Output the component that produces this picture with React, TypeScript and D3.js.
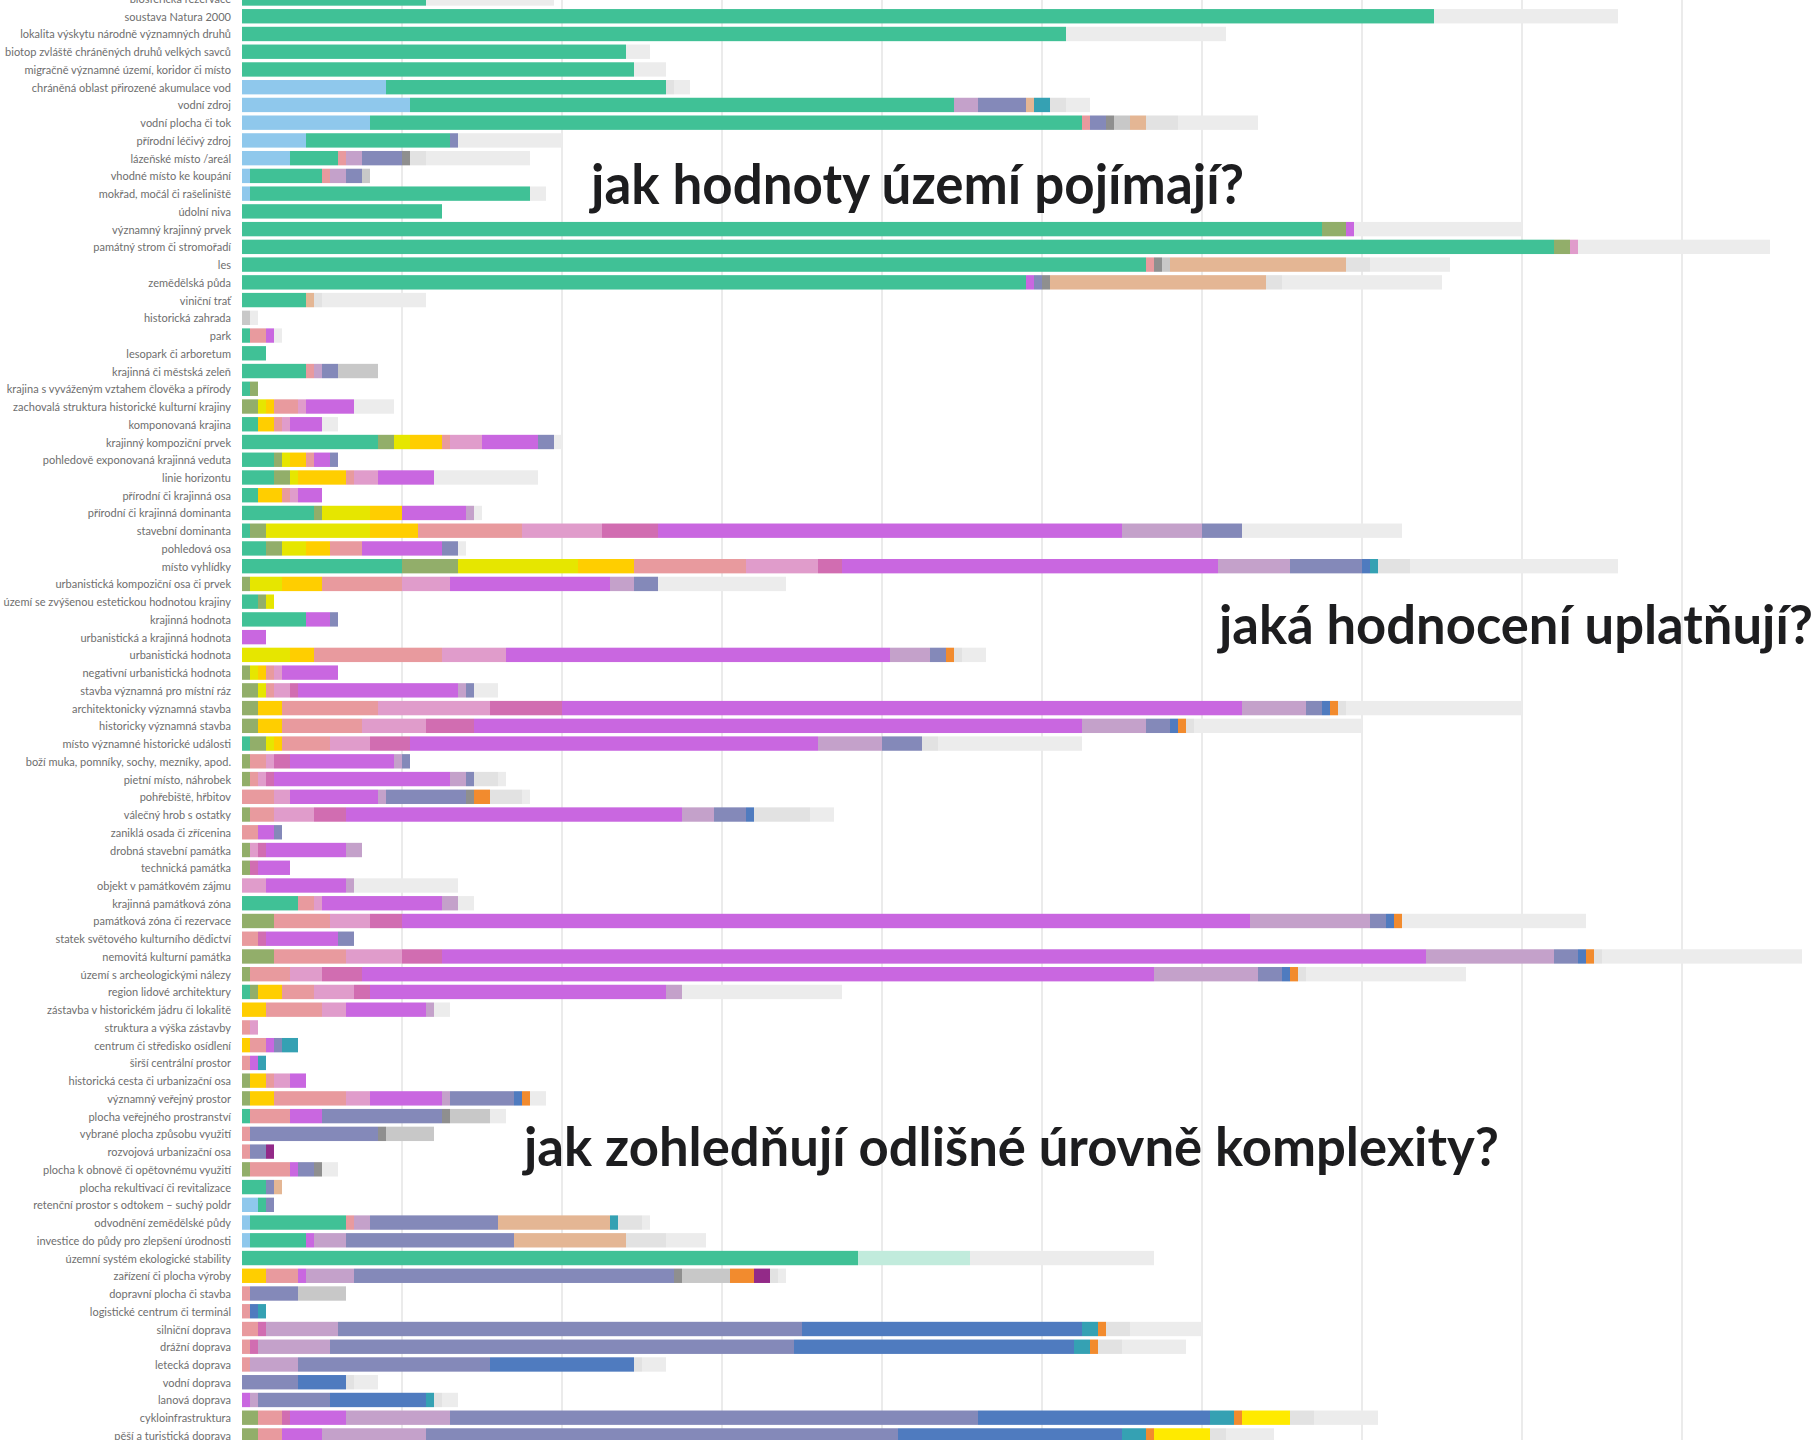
import React from "react";
import * as d3 from "d3";

const categories: string[] = [
  "biosférická rezervace",
  "soustava Natura 2000",
  "lokalita výskytu národně významných druhů",
  "biotop zvláště chráněných druhů velkých savců",
  "migračně významné území, koridor či místo",
  "chráněná oblast přirozené akumulace vod",
  "vodní zdroj",
  "vodní plocha či tok",
  "přírodní léčivý zdroj",
  "lázeňské místo /areál",
  "vhodné místo ke koupání",
  "mokřad, močál či rašeliniště",
  "údolní niva",
  "významný krajinný prvek",
  "památný strom či stromořadí",
  "les",
  "zemědělská půda",
  "viniční trať",
  "historická zahrada",
  "park",
  "lesopark či arboretum",
  "krajinná či městská zeleň",
  "krajina s vyváženým vztahem člověka a přírody",
  "zachovalá struktura historické kulturní krajiny",
  "komponovaná krajina",
  "krajinný kompoziční prvek",
  "pohledově exponovaná krajinná veduta",
  "linie horizontu",
  "přírodní či krajinná osa",
  "přírodní či krajinná dominanta",
  "stavební dominanta",
  "pohledová osa",
  "místo vyhlídky",
  "urbanistická kompoziční osa či prvek",
  "území se zvýšenou estetickou hodnotou krajiny",
  "krajinná hodnota",
  "urbanistická a krajinná hodnota",
  "urbanistická hodnota",
  "negativní urbanistická hodnota",
  "stavba významná pro místní ráz",
  "architektonicky významná stavba",
  "historicky významná stavba",
  "místo významné historické události",
  "boží muka, pomníky, sochy, mezníky, apod.",
  "pietní místo, náhrobek",
  "pohřebiště, hřbitov",
  "válečný hrob s ostatky",
  "zaniklá osada či zřícenina",
  "drobná stavební památka",
  "technická památka",
  "objekt v památkovém zájmu",
  "krajinná památková zóna",
  "památková zóna či rezervace",
  "statek světového kulturního dědictví",
  "nemovitá kulturní památka",
  "území s archeologickými nálezy",
  "region lidové architektury",
  "zástavba v historickém jádru či lokalitě",
  "struktura a výška zástavby",
  "centrum či středisko osídlení",
  "širší centrální prostor",
  "historická cesta či urbanizační osa",
  "významný veřejný prostor",
  "plocha veřejného prostranství",
  "vybrané plocha způsobu využití",
  "rozvojová urbanizační osa",
  "plocha k obnově či opětovnému využití",
  "plocha rekultivací či revitalizace",
  "retenční prostor s odtokem – suchý poldr",
  "odvodnění zemědělské půdy",
  "investice do půdy pro zlepšení úrodnosti",
  "územní systém ekologické stability",
  "zařízení či plocha výroby",
  "dopravní plocha či stavba",
  "logistické centrum či terminál",
  "silniční doprava",
  "drážní doprava",
  "letecká doprava",
  "vodní doprava",
  "lanová doprava",
  "cykloinfrastruktura",
  "pěší a turistická doprava",
];

// series in stacking order
const seriesKeys: string[] = ["B", "A", "C", "D", "E", "F", "G", "H", "I", "J", "K", "P", "Q", "O", "L", "M", "N", "V", "U", "T", "R", "S"];
const seriesColors: string[] = [
  "#8fc8ec", "#40c196", "#92ae6a", "#e6e600", "#ffce00", "#e89a9e", "#e09ccb", "#d16db1",
  "#c967e0", "#c4a1ca", "#8489b9", "#8f8f8f", "#c8c8c8", "#e4b694", "#4f7bbf", "#35a1b3",
  "#f28b2e", "#ffea00", "#932a88", "#c1ebdc", "#e2e2e2", "#ececec",
];

// segment lengths per category (same order as categories)
const rowValues: Record<string, number>[] = [
  { A: 11.5, S: 8 },
  { A: 74.5, S: 11.5 },
  { A: 51.5, S: 10 },
  { A: 24, S: 1.5 },
  { A: 24.5, S: 2 },
  { B: 9, A: 17.5, R: 0.5, S: 1 },
  { B: 10.5, A: 34, J: 1.5, K: 3, O: 0.5, M: 1, R: 1, S: 1.5 },
  { B: 8, A: 44.5, F: 0.5, K: 1, P: 0.5, Q: 1, O: 1, R: 2, S: 5 },
  { B: 4, A: 9, K: 0.5, S: 6.5 },
  { B: 3, A: 3, F: 0.5, J: 1, K: 2.5, P: 0.5, R: 1, S: 6.5 },
  { B: 0.5, A: 4.5, F: 0.5, J: 1, K: 1, Q: 0.5 },
  { B: 0.5, A: 17.5, S: 1 },
  { A: 12.5 },
  { A: 67.5, C: 1.5, I: 0.5, S: 10.5 },
  { A: 82, C: 1, G: 0.5, S: 12 },
  { A: 56.5, F: 0.5, P: 0.5, Q: 0.5, O: 11, R: 1.5, S: 5 },
  { A: 49, I: 0.5, K: 0.5, P: 0.5, O: 13.5, R: 1, S: 10 },
  { A: 4, O: 0.5, R: 0.5, S: 6.5 },
  { Q: 0.5, S: 0.5 },
  { A: 0.5, F: 1, I: 0.5, S: 0.5 },
  { A: 1.5 },
  { A: 4, F: 0.5, J: 0.5, K: 1, Q: 2.5 },
  { A: 0.5, C: 0.5 },
  { C: 1, D: 0.5, E: 0.5, F: 1.5, G: 0.5, I: 3, S: 2.5 },
  { A: 1, E: 1, F: 0.5, G: 0.5, I: 2, S: 1 },
  { A: 8.5, C: 1, D: 1, E: 2, F: 0.5, G: 2, I: 3.5, K: 1, S: 0.5 },
  { A: 2, C: 0.5, D: 0.5, E: 1, F: 0.5, I: 1, K: 0.5 },
  { A: 2, C: 1, D: 0.5, E: 3, F: 0.5, G: 1.5, I: 3.5, S: 6.5 },
  { A: 1, E: 1.5, F: 0.5, G: 0.5, I: 1.5 },
  { A: 4.5, C: 0.5, D: 3, E: 2, I: 4, J: 0.5, S: 0.5 },
  { A: 0.5, C: 1, D: 6.5, E: 3, F: 6.5, G: 5, H: 3.5, I: 29, J: 5, K: 2.5, S: 10 },
  { A: 1.5, C: 1, D: 1.5, E: 1.5, F: 2, I: 5, K: 1, S: 0.5 },
  { A: 10, C: 3.5, D: 7.5, E: 3.5, F: 7, G: 4.5, H: 1.5, I: 23.5, J: 4.5, K: 4.5, L: 0.5, M: 0.5, R: 2, S: 13 },
  { C: 0.5, D: 2, E: 2.5, F: 5, G: 3, I: 10, J: 1.5, K: 1.5, S: 8 },
  { A: 1, C: 0.5, D: 0.5 },
  { A: 4, I: 1.5, K: 0.5 },
  { I: 1.5 },
  { D: 3, E: 1.5, F: 8, G: 4, I: 24, J: 2.5, K: 1, N: 0.5, R: 0.5, S: 1.5 },
  { C: 0.5, D: 0.5, E: 0.5, F: 0.5, G: 0.5, I: 3.5 },
  { C: 1, D: 0.5, F: 0.5, G: 1, H: 0.5, I: 10, J: 0.5, K: 0.5, S: 1.5 },
  { C: 1, E: 1.5, F: 6, G: 7, H: 4.5, I: 42.5, J: 4, K: 1, L: 0.5, N: 0.5, R: 0.5, S: 11 },
  { C: 1, E: 1.5, F: 5, G: 4, H: 3, I: 38, J: 4, K: 1.5, L: 0.5, N: 0.5, R: 0.5, S: 10.5 },
  { A: 0.5, C: 1, D: 0.5, E: 0.5, F: 3, G: 2.5, H: 2.5, I: 25.5, J: 4, K: 2.5, R: 1, S: 9 },
  { C: 0.5, F: 1, G: 0.5, H: 1, I: 6.5, J: 0.5, K: 0.5 },
  { C: 0.5, F: 0.5, G: 0.5, H: 0.5, I: 11, J: 1, K: 0.5, R: 1.5, S: 0.5 },
  { F: 2, G: 1, I: 5.5, J: 0.5, K: 5, P: 0.5, N: 1, R: 2, S: 0.5 },
  { C: 0.5, F: 1.5, G: 2.5, H: 2, I: 21, J: 2, K: 2, L: 0.5, R: 3.5, S: 1.5 },
  { F: 1, I: 1, K: 0.5 },
  { C: 0.5, G: 0.5, H: 0.5, I: 5, J: 1 },
  { C: 0.5, H: 0.5, I: 2 },
  { G: 1.5, I: 5, J: 0.5, S: 6.5 },
  { A: 3.5, F: 1, G: 0.5, I: 7.5, J: 1, S: 1 },
  { C: 2, F: 3.5, G: 2.5, H: 2, I: 53, J: 7.5, K: 1, L: 0.5, N: 0.5, S: 11.5 },
  { F: 1, H: 0.5, I: 4.5, K: 1 },
  { C: 2, F: 4.5, G: 3.5, H: 2.5, I: 61.5, J: 8, K: 1.5, L: 0.5, N: 0.5, R: 0.5, S: 12.5 },
  { C: 0.5, F: 2.5, G: 2, H: 2.5, I: 49.5, J: 6.5, K: 1.5, L: 0.5, N: 0.5, R: 0.5, S: 10 },
  { A: 0.5, C: 0.5, E: 1.5, F: 2, G: 2.5, H: 1, I: 18.5, J: 1, S: 10 },
  { E: 1.5, F: 3.5, G: 1.5, I: 5, J: 0.5, S: 1 },
  { F: 0.5, G: 0.5 },
  { E: 0.5, F: 1, I: 0.5, K: 0.5, M: 1 },
  { F: 0.5, I: 0.5, M: 0.5 },
  { C: 0.5, E: 1, F: 0.5, G: 1, I: 1 },
  { C: 0.5, E: 1.5, F: 4.5, G: 1.5, I: 4.5, J: 0.5, K: 4, L: 0.5, N: 0.5, S: 1 },
  { A: 0.5, F: 2.5, I: 2, K: 7.5, P: 0.5, Q: 2.5, S: 1 },
  { F: 0.5, K: 8, P: 0.5, Q: 3 },
  { F: 0.5, K: 1, U: 0.5 },
  { C: 0.5, F: 2.5, I: 0.5, K: 1, P: 0.5, S: 1 },
  { A: 1.5, K: 0.5, O: 0.5 },
  { B: 1, A: 0.5, K: 0.5 },
  { B: 0.5, A: 6, F: 0.5, J: 1, K: 8, O: 7, M: 0.5, R: 1.5, S: 0.5 },
  { B: 0.5, A: 3.5, I: 0.5, J: 2, K: 10.5, O: 7, R: 2.5, S: 2.5 },
  { A: 38.5, T: 7, S: 11.5 },
  { E: 1.5, F: 2, I: 0.5, J: 3, K: 20, P: 0.5, Q: 3, N: 1.5, U: 1, R: 0.5, S: 0.5 },
  { F: 0.5, K: 3, Q: 3 },
  { F: 0.5, L: 0.5, M: 0.5 },
  { F: 1, H: 0.5, J: 4.5, K: 29, L: 17.5, M: 1, N: 0.5, R: 1.5, S: 4.5 },
  { F: 0.5, H: 0.5, J: 4.5, K: 29, L: 17.5, M: 1, N: 0.5, R: 1.5, S: 4 },
  { F: 0.5, J: 3, K: 12, L: 9, R: 0.5, S: 1.5 },
  { K: 3.5, L: 3, R: 0.5, S: 1.5 },
  { I: 0.5, J: 0.5, K: 4.5, L: 6, M: 0.5, R: 0.5, S: 1 },
  { C: 1, F: 1.5, H: 0.5, I: 3.5, J: 6.5, K: 33, L: 14.5, M: 1.5, N: 0.5, V: 3, R: 1.5, S: 4 },
  { C: 1, F: 1.5, I: 2.5, J: 6.5, K: 29.5, L: 14, M: 1.5, N: 0.5, V: 3.5, R: 1, S: 3 },
];

const headings: string[] = [
  "jak hodnoty území pojímají?",
  "jaká hodnocení uplatňují?",
  "jak zohledňují odlišné úrovně komplexity?",
];

const W = 1818;
const H = 1440;

export default function App() {
  const step = 17.74;
  const firstCenter = -1.5;
  const x = d3.scaleLinear().domain([0, 100]).range([242, 1842]);
  const y = d3
    .scaleBand<string>()
    .domain(categories)
    .range([firstCenter - step / 2, firstCenter - step / 2 + step * categories.length])
    .paddingInner(0.19)
    .paddingOuter(0.095);
  const color = d3.scaleOrdinal<string, string>().domain(seriesKeys).range(seriesColors);

  const data = rowValues.map((r, i) => ({ cat: categories[i], ...r }));
  const stacked = d3
    .stack<any>()
    .keys(seriesKeys)
    .value((d: any, k: string) => d[k] || 0)(data);

  const gridTicks = x.ticks(10).filter((t) => t > 0);

  const headingPos = [
    { x: 591, y: 204, len: 653, size: 55 },
    { x: 1219, y: 644, len: 594, size: 53 },
    { x: 524, y: 1166, len: 975, size: 54 },
  ];

  return (
    <svg
      width={W}
      height={H}
      viewBox={`0 0 ${W} ${H}`}
      style={{ position: "absolute", left: 0, top: 0, display: "block", background: "#ffffff" }}
    >
      <rect x={0} y={0} width={W} height={H} fill="#ffffff" />
      <g>
        {gridTicks.map((t) => (
          <line key={t} x1={x(t)} x2={x(t)} y1={0} y2={H} stroke="#e3e3e3" strokeWidth={1.4} />
        ))}
      </g>
      <g>
        {stacked.map((layer) => (
          <g key={layer.key} fill={color(layer.key)}>
            {layer.map((seg, i) =>
              seg[1] - seg[0] > 0 ? (
                <rect
                  key={i}
                  x={x(seg[0])}
                  y={y(categories[i])}
                  width={x(seg[1]) - x(seg[0])}
                  height={y.bandwidth()}
                />
              ) : null
            )}
          </g>
        ))}
      </g>
      <g fontFamily="Lato, 'Noto Sans', sans-serif" fontSize={11} fill="#6e6e6e" textAnchor="end">
        {categories.map((c) => (
          <text key={c} x={231} y={(y(c) as number) + y.bandwidth() / 2} dominantBaseline="central">
            {c}
          </text>
        ))}
      </g>
      <g fontFamily="Lato, 'Open Sans', sans-serif" fontWeight={700} fill="#1d1d1f">
        {headings.map((h, i) => (
          <text
            key={h}
            x={headingPos[i].x}
            y={headingPos[i].y}
            fontSize={headingPos[i].size}
            textLength={headingPos[i].len}
            lengthAdjust="spacingAndGlyphs"
          >
            {h}
          </text>
        ))}
      </g>
    </svg>
  );
}
